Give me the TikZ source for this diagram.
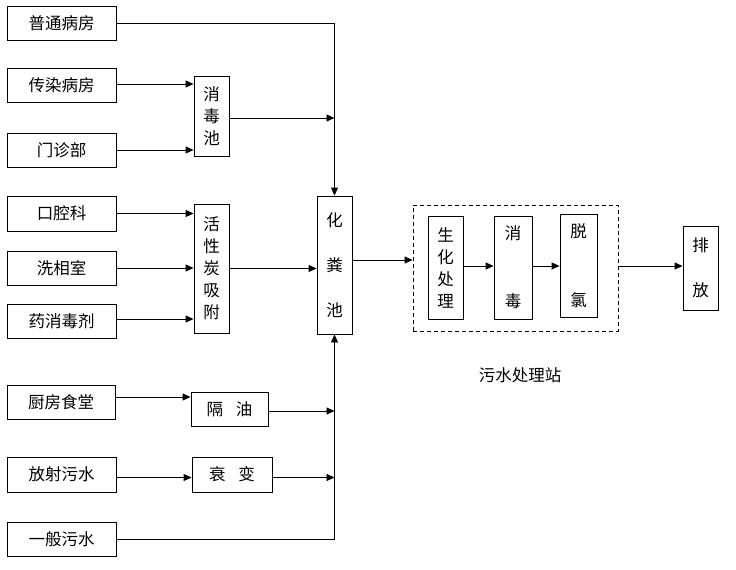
\documentclass[tikz,border=0pt]{standalone}
\usepackage{fontspec}
\newfontfamily\cjk{Noto Sans CJK SC}
\usetikzlibrary{arrows.meta}
\begin{document}
\begin{tikzpicture}[x=1pt,y=-1pt,
  box/.style={draw, line width=0.9pt, inner sep=0pt, align=center, font=\cjk\fontsize{16.5}{22}\selectfont},
  flow/.style={line width=0.9pt, -{Triangle[length=8pt,width=7pt]}},
  plain/.style={line width=0.9pt}]
\useasboundingbox (0,0) rectangle (736,570);
% source boxes
\node[box, minimum width=109pt, minimum height=34pt] (A) at (61.5,23) {普通病房};
\node[box, minimum width=109pt, minimum height=34pt] (B) at (61.5,85) {传染病房};
\node[box, minimum width=109pt, minimum height=34pt] (C) at (61.5,150) {门诊部};
\node[box, minimum width=109pt, minimum height=35pt] (E) at (61.5,213.5) {口腔科};
\node[box, minimum width=109pt, minimum height=34pt] (F) at (61.5,268) {洗相室};
\node[box, minimum width=109pt, minimum height=34pt] (G) at (61.5,321) {药消毒剂};
\node[box, minimum width=108pt, minimum height=34pt] (J) at (61,402) {厨房食堂};
\node[box, minimum width=109pt, minimum height=35pt] (L) at (61.5,474.5) {放射污水};
\node[box, minimum width=109pt, minimum height=34pt] (N) at (61.5,539) {一般污水};
% pre-treatment
\node[box, minimum width=35pt, minimum height=80pt] (D) at (211.5,116) {消\\毒\\池};
\node[box, minimum width=35pt, minimum height=129pt] (H) at (211.5,268.5) {活\\性\\炭\\吸\\附};
\node[box, minimum width=77pt, minimum height=34pt] (K) at (229.5,409) {隔\hspace{13pt}油};
\node[box, minimum width=80pt, minimum height=35pt] (M) at (232,474.5) {衰\hspace{13pt}变};
% septic tank
\node[box, minimum width=35pt, minimum height=138pt] (I) at (334.5,265) {化\\[23pt]粪\\[23pt]池};
% treatment station
\node[draw, line width=0.9pt, dash pattern=on 4pt off 3pt, minimum width=205pt, minimum height=126pt, inner sep=0pt] (O) at (515.5,268) {};
\node[box, minimum width=35pt, minimum height=103pt] (P) at (445.5,267.5) {生\\化\\处\\理};
\node[box, minimum width=38pt, minimum height=103pt] (Q) at (513,267.5) {消\\[46pt]毒};
\node[box, minimum width=37pt, minimum height=103pt] (R) at (578.5,265.5) {脱\\[47pt]氯};
\node[box, minimum width=35pt, minimum height=84pt] (S) at (700.5,268) {排\\[23pt]放};
\node[font=\cjk\fontsize{16.5}{18}\selectfont, inner sep=0pt] (T) at (520,375) {污水处理站};
% connectors
\draw[flow] (A.east) -- (A.east -| I.north) -- (I.north);
\draw[flow] ([yshift=1pt]B.east) -- ([yshift=1pt]B.east -| D.west);
\draw[flow] (C.east) -- (C.east -| D.west);
\draw[flow] ([yshift=-2pt]D.east) -- ([yshift=-2pt]D.east -| I.north);
\draw[flow] (E.east) -- (E.east -| H.west);
\draw[flow] (F.east) -- (F.east -| H.west);
\draw[flow] ([yshift=2pt]G.east) -- ([yshift=2pt]G.east -| H.west);
\draw[flow] (H.east) -- (H.east -| I.west);
\draw[flow] (N.east) -- (N.east -| I.south) -- (I.south);
\draw[flow] ([yshift=5pt]J.east) -- ([yshift=5pt]J.east -| K.west);
\draw[flow] ([yshift=-2pt]K.east) -- ([yshift=-2pt]K.east -| I.south);
\draw[flow] ([yshift=-3pt]L.east) -- ([yshift=-3pt]L.east -| M.west);
\draw[flow] ([yshift=-3pt]M.east) -- ([yshift=-3pt]M.east -| I.south);
\draw[flow] ([yshift=5pt]I.east) -- ([yshift=5pt]I.east -| O.west);
\draw[flow] ([yshift=1.5pt]P.east) -- ([yshift=1.5pt]P.east -| Q.west);
\draw[flow] ([yshift=1.5pt]Q.east) -- ([yshift=1.5pt]Q.east -| R.west);
\draw[flow] ([yshift=2pt]O.east) -- ([yshift=2pt]O.east -| S.west);
\end{tikzpicture}
\end{document}
